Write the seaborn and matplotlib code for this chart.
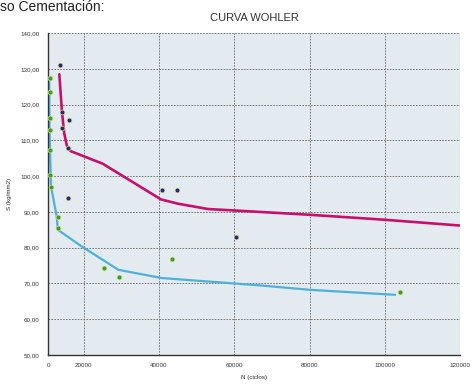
import numpy as np
import pandas as pd
import matplotlib
matplotlib.use('Agg')
import matplotlib.pyplot as plt
import seaborn as sns

# ensayo 1 (puntos azules, curva magenta)
n_azul = [13700, 14100, 14200, 16200, 15700, 15700, 40700, 44700, 60500]
s_azul = [131.1, 118.0, 113.5, 115.7, 107.8, 93.9, 96.0, 96.0, 83.1]
curva_mag_n = [13500, 14200, 14800, 15500, 16500, 25000, 40500, 45000, 53000, 60000, 80000, 100000, 121000]
curva_mag_s = [128.5, 118.0, 112.0, 108.5, 107.0, 103.5, 93.5, 92.3, 90.8, 90.4, 89.2, 87.8, 86.1]

# ensayo 2 (puntos verdes, curva celeste)
n_verde = [10900, 10900, 10900, 10900, 10900, 10900, 11300, 13100, 13100, 25300, 29300, 43500, 104000]
s_verde = [127.4, 123.6, 116.3, 113.0, 107.3, 100.3, 97.0, 88.7, 85.4, 74.3, 71.8, 76.9, 67.7]
curva_cel_n = [10800, 10900, 11300, 11500, 12800, 13100, 19500, 29200, 40700, 67300, 80100, 102700]
curva_cel_s = [127.0, 112.0, 97.0, 96.0, 88.7, 85.0, 80.3, 73.8, 71.5, 69.4, 68.2, 66.8]

x_ticks = [10500, 20000, 40000, 60000, 80000, 100000, 120000]
x_labels = ['0', '20000', '40000', '60000', '80000', '100000', '120000']
y_ticks = [50, 60, 70, 80, 90, 100, 110, 120, 130, 140]

sns.set_style('white')
plt.rcParams['font.family'] = ['Liberation Sans', 'DejaVu Sans']

fig = plt.figure(figsize=(4.71, 3.9), dpi=100)
ax = fig.add_axes([0.102, 0.09, 0.875, 0.825])
ax.set_facecolor('#e3ebf0')

sns.lineplot(x=curva_mag_n, y=curva_mag_s, sort=False, color='#c8106a', lw=1.9, ax=ax)
sns.lineplot(x=curva_cel_n, y=curva_cel_s, sort=False, color='#4fb0da', lw=1.6, ax=ax)
sns.scatterplot(x=n_azul, y=s_azul, color='#1f2a8a', s=12, edgecolor='#e8d870', linewidth=0.5, ax=ax, zorder=5)
sns.scatterplot(x=n_verde, y=s_verde, color='#3c9a3c', s=12, edgecolor='#d8e070', linewidth=0.5, ax=ax, zorder=5, clip_on=False)

ax.set_xlim(10500, 120000)
ax.set_ylim(50, 140)
ax.set_xticks(x_ticks)
ax.set_xticklabels(x_labels)
ax.set_yticks(y_ticks)
ax.set_yticklabels([f'{v:.2f}'.replace('.', ',') for v in y_ticks])
ax.tick_params(labelsize=4.5, colors='#333333', length=2, pad=4)
ax.grid(True, ls=(0, (2, 1.5)), color='#666666', lw=0.6)
for side in ['top', 'right']:
    ax.spines[side].set_visible(False)
for side in ['left', 'bottom']:
    ax.spines[side].set_color('#333333')
    ax.spines[side].set_linewidth(1.0)

ax.set_xlabel('N (ciclos)', fontsize=4.5, labelpad=5)
ax.set_ylabel('S (kg/mm2)', fontsize=4.5, labelpad=6)
ax.set_title('CURVA WOHLER', fontsize=8, color='#333333', pad=9)
fig.text(0.0, 1.0, 'so Cementación:', fontsize=10, color='#222222', va='top', ha='left')

fig.savefig('out.png', dpi=100)
